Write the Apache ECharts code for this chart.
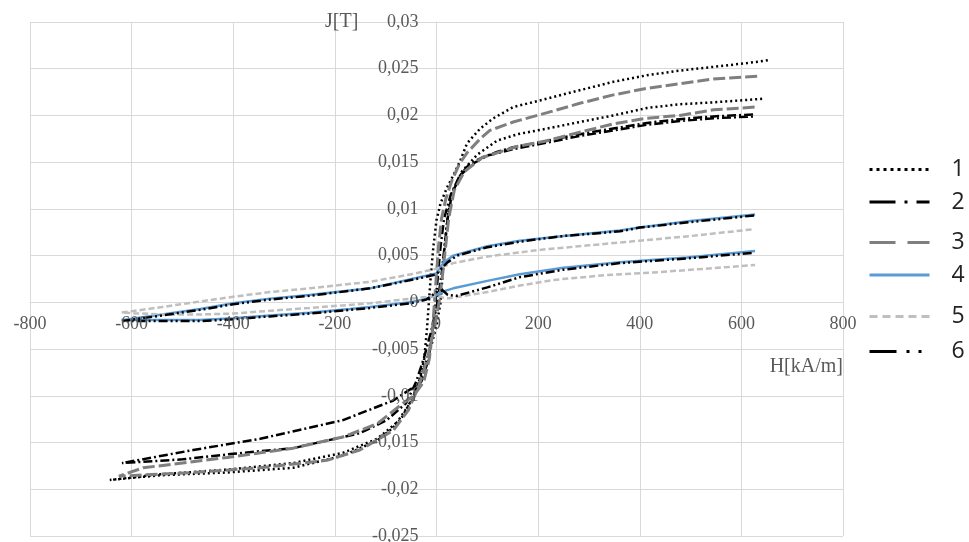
<!DOCTYPE html>
<html><head><meta charset="utf-8">
<script src="https://cdn.jsdelivr.net/npm/echarts@6/dist/echarts.min.js"></script>
<style>html,body{margin:0;padding:0;background:#fff}#c{width:969px;height:542px}</style>
</head><body><div id="c"></div>
<script>
const seriesNames = ['1','2','3','4','5','6'];
const xTicks = [-800,-600,-400,-200,0,200,400,600,800];
const xTickLabels = ['-800','-600','-400','-200','0','200','400','600','800'];
const yTicks = [-0.025,-0.02,-0.015,-0.01,-0.005,0,0.005,0.01,0.015,0.02,0.025,0.03];
const yTickLabels = ['-0,025','-0,02','-0,015','-0,01','-0,005','0','0,005','0,01','0,015','0,02','0,025','0,03'];

// series 1 (dotted) : descending then ascending branch, [H, J]
const loop1Desc = [[652,0.0259],[611,0.0256],[545,0.0252],[479,0.0248],[414,0.0243],[348,0.0236],[282,0.0227],[218,0.0218],[151,0.0209],[112,0.0197],[86,0.0186],[60,0.0170],[47,0.0152],[35,0.0138],[20,0.0122],[8,0.0106],[0,0.0088],[-6,0.0060],[-11,0.0030],[-15,0.0000],[-19,-0.0030],[-24,-0.0060],[-34,-0.0085],[-52,-0.0108],[-85,-0.0134],[-117,-0.0148],[-184,-0.0164],[-282,-0.0177],[-412,-0.0182],[-544,-0.0185],[-643,-0.0190]];
const loop1Asc = [[-643,-0.0190],[-544,-0.0184],[-412,-0.0179],[-282,-0.0172],[-184,-0.0161],[-117,-0.0146],[-70,-0.0125],[-45,-0.0100],[-28,-0.0075],[-12,-0.0050],[0,-0.0025],[8,0.0000],[12,0.0030],[16,0.0060],[22,0.0092],[32,0.0118],[50,0.0140],[80,0.0158],[119,0.0173],[160,0.0180],[218,0.0186],[282,0.0193],[348,0.0200],[414,0.0208],[479,0.0212],[545,0.0214],[645,0.0218]];

// series 2 (dash-dot)
const loop2Desc = [[623,0.0201],[545,0.0199],[479,0.0196],[414,0.0192],[348,0.0186],[282,0.0180],[218,0.0173],[151,0.0166],[119,0.0161],[90,0.0155],[65,0.0148],[45,0.0135],[28,0.0115],[15,0.0090],[8,0.0060],[3,0.0030],[-2,0.0000],[-8,-0.0030],[-15,-0.0060],[-30,-0.0085],[-46,-0.0091],[-85,-0.0105],[-184,-0.0126],[-347,-0.0146],[-479,-0.0158],[-619,-0.0172]];
const loop2Asc = [[-619,-0.0172],[-500,-0.0168],[-400,-0.0162],[-282,-0.0156],[-151,-0.0140],[-98,-0.0126],[-60,-0.0108],[-40,-0.0085],[-25,-0.0060],[-10,-0.0030],[2,0.0000],[10,0.0030],[16,0.0060],[22,0.0090],[30,0.0115],[45,0.0135],[70,0.0148],[100,0.0157],[151,0.0164],[218,0.0171],[282,0.0178],[348,0.0184],[414,0.0190],[479,0.0194],[545,0.0197],[623,0.0199]];

// series 3 (grey long dash)
const loop3Desc = [[631,0.0242],[545,0.0239],[479,0.0234],[414,0.0229],[348,0.0222],[282,0.0213],[218,0.0203],[151,0.0193],[105,0.0184],[86,0.0175],[60,0.0160],[45,0.0148],[30,0.0130],[18,0.0110],[10,0.0090],[4,0.0060],[0,0.0030],[-4,0.0000],[-8,-0.0030],[-14,-0.0060],[-25,-0.0085],[-45,-0.0100],[-66,-0.0108],[-117,-0.0130],[-184,-0.0144],[-282,-0.0156],[-412,-0.0166],[-577,-0.0177],[-625,-0.0186]];
const loop3Asc = [[-625,-0.0186],[-479,-0.0182],[-347,-0.0177],[-216,-0.0169],[-151,-0.0158],[-85,-0.0137],[-55,-0.0115],[-35,-0.0090],[-18,-0.0060],[-5,-0.0030],[5,0.0000],[12,0.0030],[18,0.0060],[24,0.0090],[35,0.0120],[55,0.0140],[90,0.0155],[119,0.0160],[160,0.0167],[218,0.0173],[282,0.0182],[348,0.0191],[414,0.0197],[479,0.0200],[545,0.0206],[627,0.0209]];

// series 4 (blue)
const loop4Desc = [[627,0.0094],[500,0.0087],[400,0.0080],[361,0.0077],[250,0.0071],[164,0.0066],[100,0.0060],[33,0.0050],[15,0.0043],[5,0.0036],[0,0.0031],[-40,0.0026],[-131,0.0015],[-250,0.0008],[-328,0.0004],[-400,-0.0001],[-465,-0.0007],[-540,-0.0013],[-620,-0.0019]];
const loop4Asc = [[-620,-0.0019],[-540,-0.0019],[-465,-0.0019],[-400,-0.0017],[-328,-0.0014],[-250,-0.0011],[-170,-0.0007],[-131,-0.0005],[-52,0.0000],[-20,0.0004],[0,0.0008],[15,0.0012],[33,0.0015],[100,0.0023],[164,0.0030],[250,0.0037],[361,0.0043],[493,0.0048],[627,0.0055]];

// series 5 (light grey short dash)
const loop5Desc = [[620,0.0078],[500,0.0071],[400,0.0066],[300,0.0061],[200,0.0056],[100,0.0049],[33,0.0042],[0,0.0036],[-50,0.0030],[-131,0.0022],[-250,0.0015],[-328,0.0011],[-400,0.0006],[-465,0.0001],[-540,-0.0005],[-620,-0.0011]];
const loop5Asc = [[-620,-0.0011],[-540,-0.0013],[-465,-0.0013],[-400,-0.0012],[-328,-0.0009],[-250,-0.0006],[-131,-0.0001],[-50,0.0004],[0,0.0007],[20,0.0004],[33,0.0005],[100,0.0011],[164,0.0018],[230,0.0024],[330,0.0029],[427,0.0032],[530,0.0036],[627,0.0040]];

// series 6 (dash-dot-dot)
const loop6Desc = [[625,0.0093],[500,0.0086],[400,0.0080],[361,0.0076],[250,0.0071],[164,0.0065],[100,0.0059],[40,0.0050],[20,0.0042],[8,0.0035],[0,0.0030],[-40,0.0025],[-131,0.0015],[-250,0.0007],[-328,0.0003],[-400,-0.0002],[-465,-0.0008],[-540,-0.0014],[-618,-0.0020]];
const loop6Asc = [[-618,-0.0020],[-540,-0.0020],[-465,-0.0020],[-400,-0.0018],[-328,-0.0015],[-250,-0.0012],[-170,-0.0008],[-131,-0.0006],[-52,-0.0001],[-20,0.0003],[0,0.0011],[12,0.0013],[22,0.0008],[40,0.0007],[100,0.0016],[164,0.0027],[250,0.0035],[361,0.0042],[493,0.0047],[625,0.0053]];

const loops = [loop1Desc.concat(loop1Asc), loop2Desc.concat(loop2Asc), loop3Desc.concat(loop3Asc),
               loop4Desc.concat(loop4Asc), loop5Desc.concat(loop5Asc), loop6Desc.concat(loop6Asc)];

const colors = ['#000000','#000000','#7f7f7f','#5b9bd5','#bfbfbf','#000000'];
const widths = [2.5,2.5,3,2.5,2.5,2.5];
const dashes = [[2,3],[9,3,2,3],[12,4],'solid',[6,3],[9,3,2,3,2,3]];
const legendDashes = [[3,4],[26,9,3,9],[26,12],'solid',[8,5],[27,10,3,9,3,9]];
const legendLineY = [165,202,238,275,312,347];
const legendTextPad = [[0,0,0,17],[12,0,0,17],[0,0,0,17],[16,0,0,17],[0,0,0,17],[0,0,0,17]];

const W = 969, H = 542;
const gridL = 30, gridR = 126, gridT = 22, gridB = 6;
const xMin = -800, xMax = 800, yMin = -0.025, yMax = 0.03;
const plotW = W - gridL - gridR, plotH = H - gridT - gridB;
const yAxisOffset = -plotW * (0 - xMin) / (xMax - xMin);
const xAxisOffset = -plotH * (0 - yMin) / (yMax - yMin);

const chart = echarts.init(document.getElementById('c'), null, {renderer:'canvas'});
const axisCol = '#d9d9d9';
const labelCol = '#595959';
const serifFont = '18px "Liberation Serif"';

chart.setOption({
  animation:false,
  backgroundColor:'#ffffff',
  grid:{left:gridL, right:gridR, top:gridT, bottom:gridB, containLabel:false},
  xAxis:{type:'value', min:xMin, max:xMax, interval:200, position:'bottom', offset:xAxisOffset,
    axisLine:{show:true, onZero:false, lineStyle:{color:axisCol, width:1}},
    axisTick:{show:false},
    splitLine:{show:true, lineStyle:{color:axisCol, width:1}},
    axisLabel:{show:false}},
  yAxis:{type:'value', min:yMin, max:yMax, interval:0.005, position:'left', offset:yAxisOffset,
    axisLine:{show:true, onZero:false, lineStyle:{color:axisCol, width:1}},
    axisTick:{show:false},
    splitLine:{show:true, lineStyle:{color:axisCol, width:1}},
    axisLabel:{show:false}},
  legend: seriesNames.map((n,i)=>{
    const p = legendTextPad[i];
    const h = 14 + p[0] + p[2];
    return {data:[n], left:868, top:legendLineY[i]-h/2, orient:'vertical', padding:0,
      itemWidth:60, itemHeight:14, selectedMode:false,
      lineStyle:{type:legendDashes[i], width:3},
      itemStyle:{color:'rgba(0,0,0,0)', borderColor:'rgba(0,0,0,0)', borderWidth:0, opacity:0},
      textStyle:{fontFamily:'Open Sans', fontSize:23, lineHeight:14, color:'#222', padding:p}};
  }),
  series: loops.map((d,i)=>({
    name:seriesNames[i], type:'line', data:d, symbol:'none', showSymbol:false, smooth:false,
    lineStyle:{color:colors[i], width:widths[i], type:dashes[i]},
    itemStyle:{color:colors[i]},
    z: 2+i
  }))
});

// tick labels placed through the chart's own scales (serif font)
const origin = chart.convertToPixel({gridIndex:0}, [0, 0]);
const tickTexts = [];
xTicks.forEach((v,i)=>{
  const p = chart.convertToPixel({gridIndex:0}, [v, 0]);
  tickTexts.push({type:'text', x:p[0], y:origin[1]+13, z:50,
    style:{text:xTickLabels[i], font:serifFont, fill:labelCol, align:'center', verticalAlign:'top'}});
});
yTicks.forEach((v,i)=>{
  const p = chart.convertToPixel({gridIndex:0}, [0, v]);
  tickTexts.push({type:'text', x:origin[0]-18, y:p[1], z:50,
    style:{text:yTickLabels[i], font:serifFont, fill:labelCol, align:'right', verticalAlign:'middle'}});
});
tickTexts.push({type:'text', left:325, top:12, z:50, style:{text:'J[T]', font:'20px "Liberation Serif"', fill:labelCol}});
tickTexts.push({type:'text', right:126, top:355, z:50, style:{text:'H[kA/m]', font:'20px "Liberation Serif"', fill:labelCol, backgroundColor:'#ffffff', padding:[2,0,2,4]}});
chart.setOption({graphic: tickTexts});
</script></body></html>
